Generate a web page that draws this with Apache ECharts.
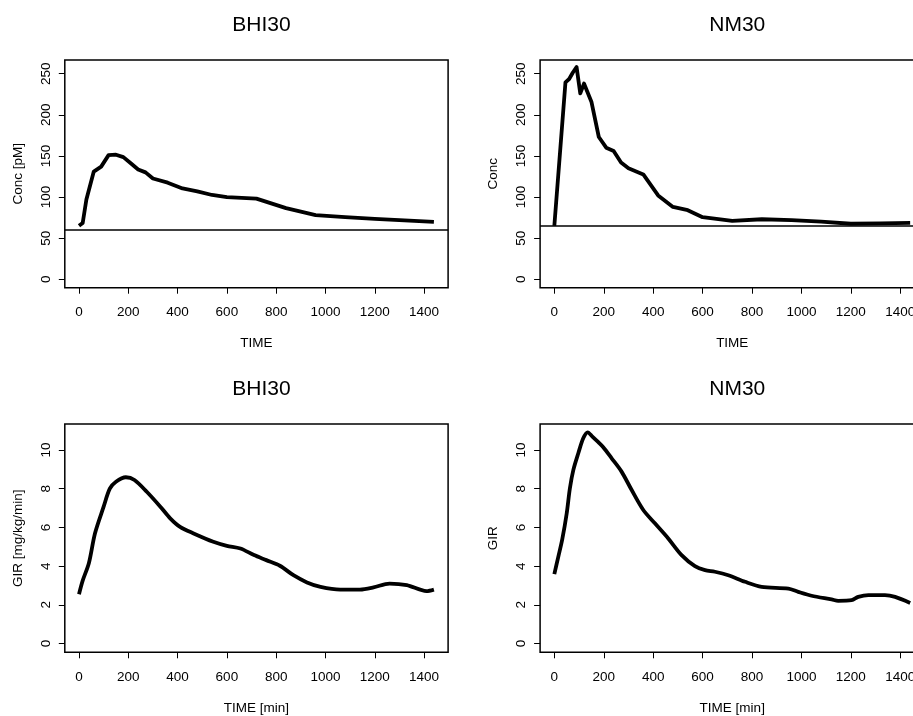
<!DOCTYPE html>
<html>
<head>
<meta charset="utf-8">
<script src="https://cdn.jsdelivr.net/npm/echarts@6/dist/echarts.min.js"></script>
<style>
html,body{margin:0;padding:0;background:#fff;}
#chart{width:913px;height:716px;}
</style>
</head>
<body>
<div id="chart"></div>
<script>
// ---- data ----
const panelTitles = ['BHI30', 'NM30', 'BHI30', 'NM30'];
const xTicks = [0, 200, 400, 600, 800, 1000, 1200, 1400];
const concTicks = [0, 50, 100, 150, 200, 250];
const girTicks = [0, 2, 4, 6, 8, 10];

const bhiConcTime = [0, 15, 30, 60, 90, 120, 150, 180, 210, 240, 270, 300, 360, 420, 480, 540, 600, 720, 840, 960, 1080, 1200, 1320, 1440];
const bhiConc = [65, 68.5, 97, 131, 137, 151, 151.5, 148.5, 141, 133.5, 130, 122.5, 117.5, 110.5, 107, 102.5, 100, 98, 86.5, 78, 75.5, 73.5, 71.5, 69.8];
const bhiBaseline = 60;

const nmConcTime = [0, 45, 60, 75, 90, 105, 120, 150, 180, 210, 240, 270, 300, 360, 420, 480, 540, 600, 720, 840, 960, 1080, 1200, 1320, 1440];
const nmConc = [65, 239.5, 243.5, 251.5, 258, 226, 238, 216, 173, 160, 156, 142, 135, 127.5, 102, 88, 84, 75.5, 71, 73, 72, 70, 67.5, 68, 68.5];
const nmBaseline = 65;

const bhiGirTime = [0, 15, 40, 65, 100, 125, 150, 190, 225, 275, 330, 370, 410, 465, 545, 600, 655, 710, 760, 815, 870, 925, 980, 1060, 1140, 1195, 1260, 1330, 1410, 1440];
const bhiGir = [2.55, 3.25, 4.15, 5.7, 7.07, 8.0, 8.36, 8.59, 8.45, 7.84, 7.07, 6.47, 6.03, 5.69, 5.26, 5.05, 4.91, 4.57, 4.31, 4.02, 3.53, 3.16, 2.93, 2.79, 2.79, 2.9, 3.1, 3.02, 2.71, 2.79];

const nmGirTime = [0, 16, 32, 50, 63, 77, 97, 117, 135, 154, 178, 198, 232, 272, 313, 360, 407, 461, 515, 569, 610, 650, 704, 772, 839, 947, 987, 1041, 1122, 1149, 1203, 1230, 1271, 1338, 1379, 1440];
const nmGir = [3.59, 4.48, 5.38, 6.72, 8.02, 8.97, 9.83, 10.6, 10.91, 10.69, 10.4, 10.14, 9.57, 8.88, 7.93, 6.9, 6.21, 5.43, 4.57, 4.0, 3.79, 3.71, 3.53, 3.19, 2.93, 2.84, 2.67, 2.47, 2.28, 2.21, 2.24, 2.41, 2.5, 2.5, 2.41, 2.1];

const xNames = ['TIME', 'TIME', 'TIME [min]', 'TIME [min]'];
const yNames = ['Conc [pM]', 'Conc', 'GIR [mg/kg/min]', 'GIR'];

// ---- layout / style ----
const FONT = '"Liberation Sans", Arial, Helvetica, sans-serif';
const grids = [
  {left: 64.8, top: 60, width: 383.3, height: 227.7},
  {left: 540.1, top: 60, width: 384.3, height: 227.7},
  {left: 64.8, top: 424, width: 383.3, height: 228.3},
  {left: 540.1, top: 424, width: 384.3, height: 228.3}
];
const yRanges = [[-10.256, 266.66], [-10.256, 266.66], [-0.45, 11.34], [-0.45, 11.34]];
const yTickSets = [concTicks, concTicks, girTicks, girTicks];

const zip = (a, b) => a.map((v, i) => [v, b[i]]);
const plain = v => String(v);

const option = {
  animation: false,
  backgroundColor: '#fff',
  title: grids.map((g, i) => ({
    text: panelTitles[i],
    left: g.left + g.width / 2,
    top: g.top - 50,
    textAlign: 'center',
    textStyle: {fontSize: 21, fontWeight: 'normal', color: '#000', fontFamily: FONT}
  })),
  grid: grids.map(g => Object.assign({
    show: true, borderColor: '#000', borderWidth: 1.5, backgroundColor: 'transparent',
    containLabel: false, outerBoundsMode: 'none'
  }, g)),
  xAxis: grids.map((g, i) => ({
    type: 'value', gridIndex: i, min: -57.6, max: 1497.6, position: 'bottom',
    axisLine: {show: false, onZero: false},
    splitLine: {show: false},
    axisTick: {show: true, length: 6, customValues: xTicks, lineStyle: {color: '#000', width: 1}},
    axisLabel: {customValues: xTicks, formatter: plain, margin: 18, fontSize: 13.5, color: '#000', fontFamily: FONT},
    name: xNames[i], nameLocation: 'middle', nameGap: 49,
    nameTextStyle: {fontSize: 13.5, color: '#000', fontFamily: FONT}
  })),
  yAxis: grids.map((g, i) => ({
    type: 'value', gridIndex: i, min: yRanges[i][0], max: yRanges[i][1], position: 'left',
    axisLine: {show: false, onZero: false},
    splitLine: {show: false},
    axisTick: {show: true, length: 6, customValues: yTickSets[i], lineStyle: {color: '#000', width: 1}},
    axisLabel: {customValues: yTickSets[i], formatter: plain, rotate: 90, margin: 12, fontSize: 13.5, color: '#000', fontFamily: FONT},
    name: yNames[i], nameLocation: 'middle', nameGap: 40,
    nameTextStyle: {fontSize: 13.5, color: '#000', fontFamily: FONT}
  })),
  series: [
    {
      type: 'line', xAxisIndex: 0, yAxisIndex: 0, data: zip(bhiConcTime, bhiConc),
      showSymbol: false, lineStyle: {color: '#000', width: 3.8, join: 'round'},
      markLine: {silent: true, symbol: 'none', label: {show: false},
        lineStyle: {color: '#000', width: 1.5, type: 'solid'}, data: [{yAxis: bhiBaseline}]}
    },
    {
      type: 'line', xAxisIndex: 1, yAxisIndex: 1, data: zip(nmConcTime, nmConc),
      showSymbol: false, lineStyle: {color: '#000', width: 3.8, join: 'round'},
      markLine: {silent: true, symbol: 'none', label: {show: false},
        lineStyle: {color: '#000', width: 1.5, type: 'solid'}, data: [{yAxis: nmBaseline}]}
    },
    {
      type: 'line', xAxisIndex: 2, yAxisIndex: 2, data: zip(bhiGirTime, bhiGir),
      showSymbol: false, smooth: 0.3, lineStyle: {color: '#000', width: 3.8, join: 'round'}
    },
    {
      type: 'line', xAxisIndex: 3, yAxisIndex: 3, data: zip(nmGirTime, nmGir),
      showSymbol: false, smooth: 0.3, lineStyle: {color: '#000', width: 3.8, join: 'round'}
    }
  ]
};

const chart = echarts.init(document.getElementById('chart'), null, {renderer: 'canvas'});
chart.setOption(option);
</script>
</body>
</html>
